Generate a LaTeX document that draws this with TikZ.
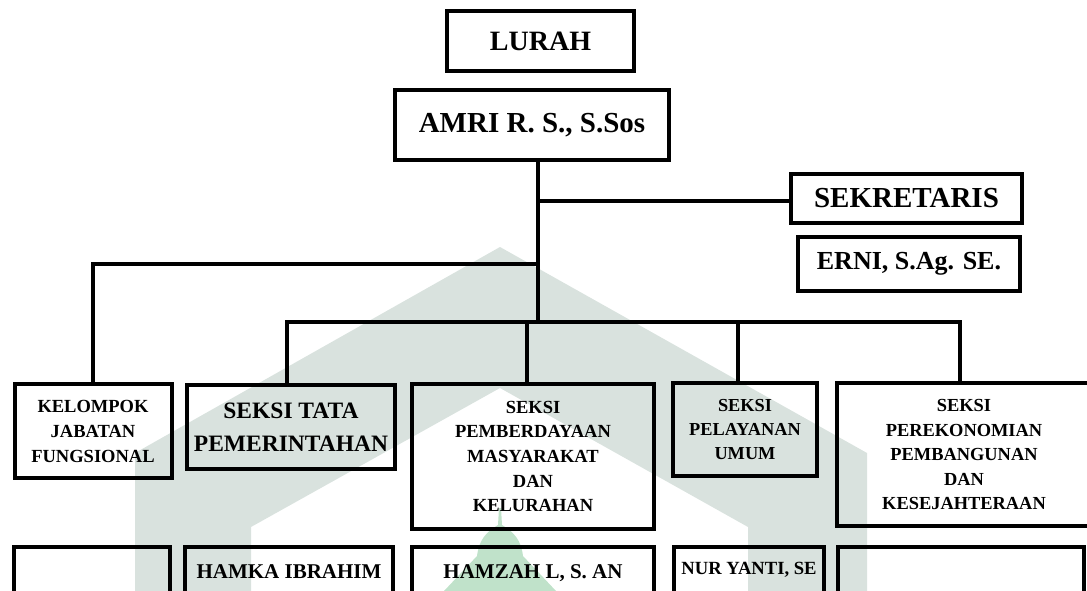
\documentclass[tikz,border=0pt]{standalone}
\usepackage{fontspec}
\setmainfont{Liberation Serif}
\usetikzlibrary{positioning}
\definecolor{wmgrey}{RGB}{217,226,222}
\definecolor{wmgreen}{RGB}{192,226,202}
\tikzset{box/.style = {draw, line width=4pt, align=center, inner sep=0pt},
         fs/.style 2 args = {font=\fontsize{#1}{#2}\selectfont\bfseries},
         lowbox/.style = {box, anchor=north, text height=31pt, text depth=74pt},
         conn/.style = {line width=4.5pt}}
\begin{document}
\begin{tikzpicture}[x=1pt,y=-1pt]
	\useasboundingbox (0,0) rectangle (1087,591);
	\clip (0,0) rectangle (1087,591);
	\fill[wmgrey] (500,247) -- (867,453) -- (867,591) -- (748,591) -- (748,527) -- (500,388)
		-- (251,527) -- (251,591) -- (135,591) -- (135,453) -- cycle;
	\fill[wmgreen] (499,508) -- (501,508) -- (502,525) .. controls (514,532) and (521,540) .. (523,556)
		-- (556,591) -- (444,591) -- (477,556) .. controls (479,540) and (486,532) .. (498,525) -- cycle;
	\node[box, fs={28}{34}, minimum width=187pt, minimum height=60pt] (lurah) at (540.5,41) {LURAH};
	\node[box, fs={29}{34}, minimum width=274pt, minimum height=70pt] (amri) at (532,125) {AMRI R. S., S.Sos};
	\node[box, fs={29}{34}, minimum width=231pt, minimum height=49pt] (sekretaris) at (906.5,198.5) {SEKRETARIS};
	\node[box, fs={26}{30}, minimum width=222pt, minimum height=54pt] (erni) at (909,264) {ERNI, S.Ag. SE.};
	\node[box, fs={18.5}{25}, minimum width=157pt, minimum height=94pt] (kelompok) at (93,431) {KELOMPOK\\JABATAN\\FUNGSIONAL};
	\node[box, fs={23.5}{33}, minimum width=208pt, minimum height=84pt] (tata) at (291,427) {SEKSI TATA\\PEMERINTAHAN};
	\node[box, fs={18.5}{24.7}, minimum width=242pt, minimum height=145pt] (pemb) at (533,456.5) {SEKSI\\PEMBERDAYAAN\\MASYARAKAT\\DAN\\KELURAHAN};
	\node[box, fs={18.3}{24}, minimum width=144pt, minimum height=93pt] (pelay) at (745,429.5) {SEKSI\\PELAYANAN\\UMUM};
	\node[box, fs={18.4}{24.5}, minimum width=254pt, minimum height=143pt] (perek) at (964,454.5) {SEKSI\\PEREKONOMIAN\\PEMBANGUNAN\\DAN\\KESEJAHTERAAN};
	\node[lowbox, minimum width=156pt] (kelompokname) at (92,545) {};
	\node[lowbox, fs={21}{25}, minimum width=208pt] (tataname) at (289,545) {HAMKA IBRAHIM};
	\node[lowbox, fs={21}{25}, minimum width=242pt] (pembname) at (533,545) {HAMZAH L, S. AN};
	\node[lowbox, fs={18.6}{22}, minimum width=150pt, text height=27pt, text depth=78pt] (pelayname) at (749,545) {NUR YANTI, SE};
	\node[lowbox, minimum width=246pt] (perekname) at (961,545) {};
	\coordinate (sek) at (538,201);
	\coordinate (fork) at (538,264);
	\coordinate (trunk) at (538,322);
	\draw[conn] (amri.south -| trunk) -- (trunk);
	\draw[conn] (sek) -- (sek -| sekretaris.west);
	\draw[conn] (kelompok.north) |- (fork);
	\draw[conn] ([xshift=-4pt]tata.north) |- (trunk) -| ([xshift=-4pt]perek.north);
	\draw[conn] ([xshift=-6pt]pemb.north) -- ([xshift=-6pt]pemb.north |- trunk);
	\draw[conn] ([xshift=-7pt]pelay.north) -- ([xshift=-7pt]pelay.north |- trunk);
\end{tikzpicture}
\end{document}
